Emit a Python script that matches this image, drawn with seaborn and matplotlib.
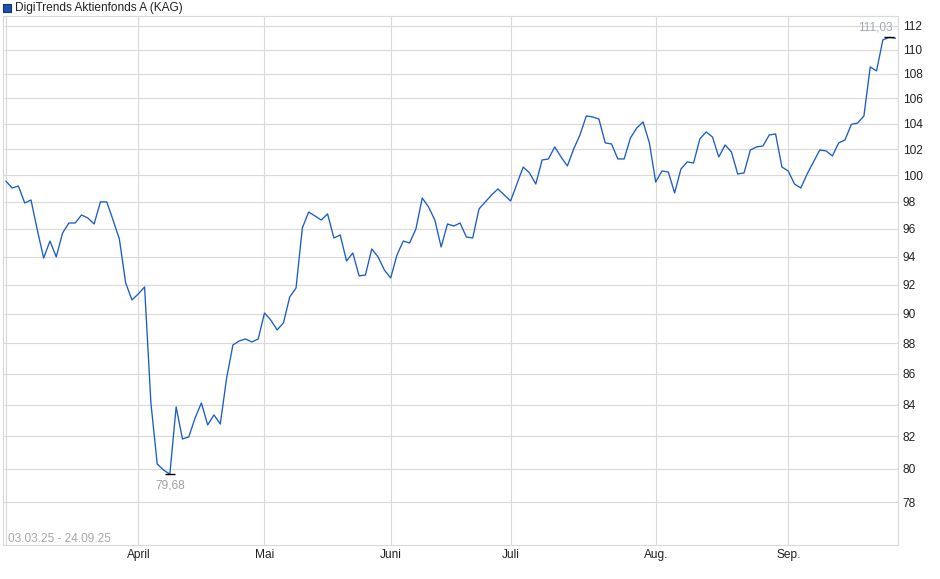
import numpy as np
import pandas as pd
import matplotlib
matplotlib.use('Agg')
import matplotlib.pyplot as plt
from matplotlib.patches import Rectangle
import seaborn as sns

# --- data ---
fund_name = 'DigiTrends Aktienfonds A (KAG)'
date_range_label = '03.03.25 - 24.09.25'
start_date = '2025-03-03'
end_date = '2025-09-24'
holidays = ['2025-04-18', '2025-04-21', '2025-05-01', '2025-05-29', '2025-06-09', '2025-06-19']

prices = [
    99.56, 99.03, 99.18, 97.91, 98.13, 95.92, 93.90, 95.12, 93.98, 95.70,
    96.43, 96.43, 97.02, 96.80, 96.36, 97.99, 97.99, 96.65, 95.27, 92.14,
    90.96, 91.37, 91.86, 84.11, 80.30, 79.94, 79.68, 83.86, 81.84, 81.97,
    83.16, 84.11, 82.72, 83.35, 82.78, 85.72, 87.90, 88.17, 88.30, 88.10,
    88.30, 90.06, 89.58, 88.91, 89.38, 91.16, 91.79, 96.07, 97.24, 96.95,
    96.65, 97.10, 95.34, 95.56, 93.69, 94.26, 92.63, 92.70, 94.55, 93.98,
    93.05, 92.49, 94.12, 95.12, 94.98, 96.00, 98.28, 97.61, 96.65, 94.69,
    96.36, 96.21, 96.43, 95.41, 95.34, 97.47, 97.99, 98.51, 98.96, 98.51,
    98.06, 99.33, 100.62, 100.17, 99.33, 101.16, 101.24, 102.17, 101.39, 100.70,
    102.01, 103.10, 104.60, 104.52, 104.36, 102.48, 102.40, 101.24, 101.24, 102.87,
    103.65, 104.12, 102.48, 99.48, 100.32, 100.24, 98.66, 100.47, 101.01, 100.93,
    102.79, 103.34, 102.94, 101.39, 102.32, 101.78, 100.09, 100.17, 101.93, 102.17,
    102.24, 103.10, 103.18, 100.62, 100.32, 99.33, 99.03, 100.09, 101.01, 101.93,
    101.86, 101.47, 102.48, 102.71, 103.93, 104.04, 104.60, 108.57, 108.24, 110.82,
    111.03, 110.96,
]

month_names = ['', 'April', 'Mai', 'Juni', 'Juli', 'Aug.', 'Sep.']
y_ticks = list(range(78, 113, 2))

# --- build frame ---
days = pd.bdate_range(start_date, end_date)
days = days[~days.isin(pd.to_datetime(holidays))]
df = pd.DataFrame({'date': days, 'price': prices})
df['idx'] = np.arange(len(df))
month_pos = df.groupby(df['date'].dt.month)['idx'].min().values

# --- style ---
sns.set_style('white')
plt.rcParams['font.family'] = ['Liberation Sans', 'DejaVu Sans']
grid_col = '#d9d9d9'
line_col = '#1a5cc9'

fig = plt.figure(figsize=(9.4, 5.79), dpi=100)
ax = fig.add_axes([3 / 940, 1 - 545 / 579, 895 / 940, 529 / 579])

sns.lineplot(data=df, x='idx', y='price', ax=ax, color=line_col, linewidth=0.95)

ax.set_yscale('log')
ax.set_ylim(75.51, 112.85)
ax.set_xlim(-0.44, 141.4)
ax.set_yticks(y_ticks)
ax.set_yticklabels([str(t) for t in y_ticks])
ax.yaxis.set_minor_locator(matplotlib.ticker.NullLocator())
ax.set_xticks(month_pos)
ax.set_xticklabels(month_names)
ax.yaxis.tick_right()
ax.tick_params(axis='both', length=0, labelsize=8.6, colors='#222222')
ax.tick_params(axis='y', pad=3.5)
ax.tick_params(axis='x', pad=3)
ax.set_xlabel('')
ax.set_ylabel('')
ax.grid(True, which='major', color=grid_col, linewidth=0.8)
for s in ax.spines.values():
    s.set_color(grid_col)
    s.set_linewidth(0.8)

# min / max markers
i_max = int(np.argmax(prices))
i_min = int(np.argmin(prices))
for i in (i_max, i_min):
    ax.plot(i, prices[i], marker='_', markersize=6.5, markeredgewidth=1.0, color='black')
ax.annotate(f'{prices[i_max]:.2f}'.replace('.', ','), xy=(i_max, prices[i_max]),
            xytext=(-14, 9.5), textcoords='offset pixels', ha='center', va='center',
            fontsize=8.6, color='#a3a9b4')
ax.annotate(f'{prices[i_min]:.2f}'.replace('.', ','), xy=(i_min, prices[i_min]),
            xytext=(0, -11.5), textcoords='offset pixels', ha='center', va='center',
            fontsize=8.6, color='#a0a0a0')

ax.text(0.006, 0.0115, date_range_label, transform=ax.transAxes, ha='left', va='center',
        fontsize=8.6, color='#a8a8a8')

# legend box
fig.patches.append(Rectangle((3 / 940, 1 - 11.5 / 579), 8 / 940, 8 / 579, transform=fig.transFigure,
                             facecolor='#1f4fb0', edgecolor='#15306a', linewidth=0.8))
fig.text(15 / 940, 1 - 7.5 / 579, fund_name, ha='left', va='center', fontsize=8.6, color='#222222')

fig.savefig('out.png', dpi=100)
